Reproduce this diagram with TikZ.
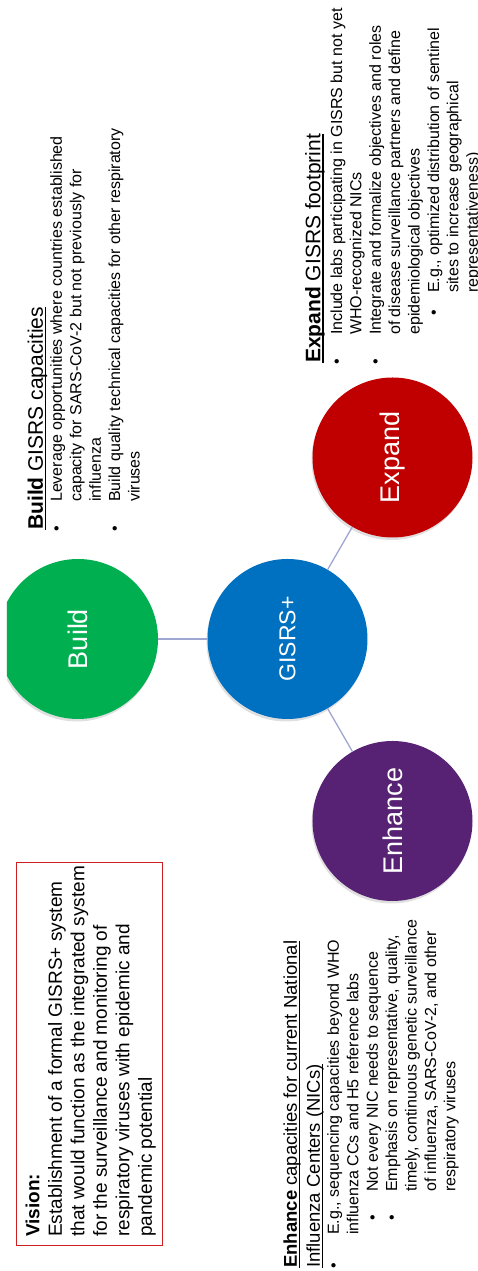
\documentclass[tikz,border=0pt]{standalone}
\usepackage{fontspec}
\setmainfont{Liberation Sans}
\usetikzlibrary{shadows}
\definecolor{buildgreen}{RGB}{0,176,80}
\definecolor{gisrsblue}{RGB}{0,112,192}
\definecolor{expandred}{RGB}{192,0,0}
\definecolor{enhancepurple}{RGB}{87,34,115}
\definecolor{linklilac}{RGB}{160,166,210}
\definecolor{visionred}{RGB}{204,32,32}
\newsavebox{\hdbox}
\newcommand{\hdline}[1]{\sbox{\hdbox}{#1}\rlap{\rule[-3.2pt]{\wd\hdbox}{1.4pt}}\usebox{\hdbox}}
\newcommand{\bl}[1]{\makebox[#1][l]{\textbullet}}
\newcommand{\ind}[1]{\hspace*{#1}}
\tikzset{
  hub/.style={
    circle,minimum size=160pt,inner sep=0pt,text=white,
    font=\fontsize{27}{27}\selectfont,
    drop shadow={opacity=0.25,shadow xshift=-1pt,shadow yshift=-2.5pt}
  },
  link/.style={draw=linklilac,line width=1.3pt},
  heading/.style={
    anchor=base west,inner sep=0pt,align=left,
    font=\fontsize{21}{25}\selectfont
  },
  bodytext/.style={
    anchor=base west,inner sep=0pt,align=left,
    font=\fontsize{16}{19.4}\selectfont
  },
  visionframe/.style={draw=visionred,line width=1.2pt,inner sep=0pt}
}
\begin{document}
\begin{tikzpicture}[x=1pt,y=1pt,rotate=90,transform shape]
  \useasboundingbox (0,0) rectangle (1271,477);

  % hub and its three arms
  \begin{scope}
    \clip (0,0) rectangle (1271,470);
    \node[hub,fill=buildgreen] (build) at (632,399) {Build};
  \end{scope}
  \node[hub,fill=gisrsblue,font=\fontsize{23}{23}\selectfont]
    (gisrs) at (632,189.5) {GISRS+};
  \node[hub,fill=expandred] (expand) at (813.5,84.5) {Expand};
  \node[hub,fill=enhancepurple] (enhance) at (450,84.5) {Enhance};

  \draw[link] (gisrs) -- (build);
  \draw[link] (gisrs) -- (expand);
  \draw[link] (gisrs) -- (enhance);

  % vision (base = last line)
  \node[visionframe,minimum width=383pt,minimum height=146pt,anchor=south west]
    (visionbox) at (25,314) {};
  \node[anchor=base west,inner sep=0pt,align=left,
    font=\fontsize{19}{22.5}\selectfont] (visiontext) at (34,325)
    {\textbf{Vision:}\\
     Establishment of a formal GISRS+ system\\
     that would function as the integrated system\\
     for the surveillance and monitoring of\\
     respiratory viruses with epidemic and\\
     pandemic potential};

  % build
  \node[heading] (buildhead) at (741,434)
    {\hdline{\textbf{Build} GISRS capacities}};
  \node[bodytext] (buildlist) at (739.2,337.4)
    {\bl{29.8pt}Leverage opportunities where countries established\\
     \ind{29.8pt}capacity for SARS-CoV-2 but not previously for\\
     \ind{29.8pt}influenza\\
     \bl{29.8pt}Build quality technical capacities for other respiratory\\
     \ind{29.8pt}viruses};

  % expand
  \node[heading] (expandhead) at (908,156.5)
    {\hdline{\textbf{Expand} GISRS footprint}};
  \node[bodytext] (expandlist) at (906.2,-0.8)
    {\bl{29.8pt}Include labs participating in GISRS but not yet\\
     \ind{29.8pt}WHO-recognized NICs\\
     \bl{29.8pt}Integrate and formalize objectives and roles\\
     \ind{29.8pt}of disease surveillance partners and define\\
     \ind{29.8pt}epidemiological objectives\\
     \ind{49pt}\bl{22.8pt}E.g., optimized distribution of sentinel\\
     \ind{71.8pt}sites to increase geographical\\
     \ind{71.8pt}representativeness)};

  % enhance
  \node[heading,font=\fontsize{18.5}{23}\selectfont] (enhancehead) at (3,157)
    {\hdline{\textbf{Enhance} capacities for current National}\\
     \hdline{Influenza Centers (NICs)}};
  \node[bodytext] (enhancelist) at (2.2,21.6)
    {\bl{33.8pt}E.g., sequencing capacities beyond WHO\\
     \ind{33.8pt}influenza CCs and H5 reference labs\\
     \ind{48pt}\bl{28.8pt}Not every NIC needs to sequence\\
     \ind{48pt}\bl{28.8pt}Emphasis on representative, quality,\\
     \ind{76.8pt}timely, continuous genetic surveillance\\
     \ind{76.8pt}of influenza, SARS-CoV-2, and other\\
     \ind{76.8pt}respiratory viruses};
\end{tikzpicture}
\end{document}
